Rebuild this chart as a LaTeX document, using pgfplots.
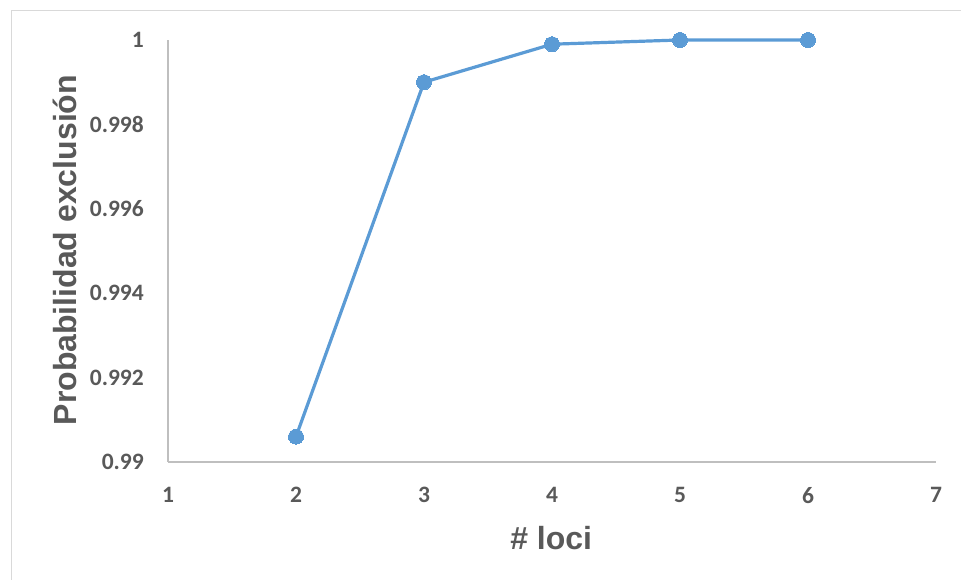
\documentclass[border=0pt]{standalone}
\usepackage{pgfplots}
\pgfplotsset{compat=1.18}
\usepackage{fontspec}
\setmainfont{Carlito}
\newfontfamily\labelfont{Liberation Sans}
\definecolor{seriesblue}{HTML}{5B9BD5}
\definecolor{axisgray}{HTML}{BFBFBF}
\definecolor{textgray}{HTML}{595959}
\definecolor{framegray}{HTML}{D9D9D9}

\begin{document}
\begin{tikzpicture}[x=1pt,y=1pt]
\useasboundingbox (0,0) rectangle (961,580);
% outer chart frame
\draw[framegray, line width=1.5pt] (11.5,-1) -- (11.5,569.5) -- (962,569.5);
\begin{axis}[
  at={(168pt,118pt)}, anchor=south west,
  scale only axis, width=768pt, height=422pt,
  xmin=1, xmax=7, ymin=0.99, ymax=1,
  axis lines*=left,
  axis line style={axisgray, line width=1.2pt},
  separate axis lines,
  x axis line style={-}, y axis line style={-},
  major tick length=0pt,
  xtick={1,2,3,4,5,6,7},
  ytick={0.99,0.992,0.994,0.996,0.998,1},
  yticklabels={0.99,0.992,0.994,0.996,0.998,1},
  xticklabels={1,2,3,4,5,6,7},
  tick label style={font=\fontsize{23.5}{28}\selectfont\bfseries, text=textgray, inner sep=0pt},
  xticklabel style={anchor=north, yshift=-25pt},
  yticklabel style={anchor=east, xshift=-24pt},
  xlabel={\# loci},
  ylabel={Probabilidad exclusión},
  label style={font=\labelfont\fontsize{32}{38}\selectfont\bfseries, text=textgray, inner sep=0pt},
  xlabel style={at={(axis description cs:0.499,-0.180)}, anchor=center},
  ylabel style={at={(axis description cs:-0.134,0.502)}, anchor=center, rotate=0},
  clip=false,
]
\addplot[seriesblue, line width=3.2pt, mark=*, mark size=7.5pt,
  mark options={fill=seriesblue, draw=seriesblue, line width=0pt}]
  coordinates {(2,0.9906) (3,0.9990) (4,0.9999) (5,1.0000) (6,1.0000)};
\end{axis}
\end{tikzpicture}
\end{document}
